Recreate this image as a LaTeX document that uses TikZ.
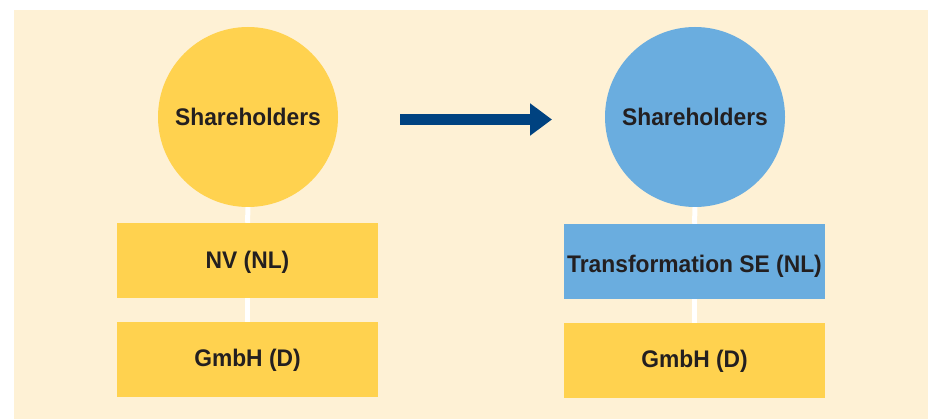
\documentclass[tikz,border=0pt]{standalone}
\usepackage{fontspec}
\setmainfont{Liberation Sans}
\newfontfamily\lblfont[FakeStretch=0.95]{Liberation Sans}
\usetikzlibrary{arrows.meta}
\definecolor{cream}{HTML}{FEF1D5}
\definecolor{yel}{HTML}{FFD24F}
\definecolor{sky}{HTML}{6AADDF}
\definecolor{navy}{HTML}{004280}
\definecolor{ink}{HTML}{231F20}
\tikzset{
  lbl/.style={text=ink, font=\lblfont\fontsize{24}{28}\selectfont\bfseries},
  circ/.style={lbl, circle, minimum size=180pt, inner sep=0pt},
  boxn/.style={rectangle, minimum width=261pt, minimum height=75pt, inner sep=0pt},
  link/.style={draw=white, line width=5pt},
}
\begin{document}
\begin{tikzpicture}[x=1pt,y=-1pt]
\useasboundingbox (0,0) rectangle (928,419);
\fill[cream] (14,10) rectangle (928,419);
% left
\node[circ, fill=yel] (s1) at (248,117) {Shareholders};
\node[boxn, fill=yel, label={[lbl, yshift=-2pt]center:NV (NL)}] (nv) at (247.5,260.5) {};
\node[boxn, fill=yel, label={[lbl, yshift=-1pt]center:GmbH (D)}] (g1) at (247.5,359.5) {};
\draw[link] (s1.south) -- (nv.north);
\draw[link] (nv.south) -- (g1.north);
% right
\node[circ, fill=sky] (s2) at (695,117) {Shareholders};
\node[boxn, fill=sky, label={[lbl, yshift=-5pt]center:Transformation SE (NL)}] (se) at (694.5,261.5) {};
\node[boxn, fill=yel, label={[lbl, yshift=-1pt]center:GmbH (D)}] (g2) at (694.5,360.5) {};
\draw[link] (s2.south) -- (se.north);
\draw[link] (se.south) -- (g2.north);
% arrow
\coordinate (a1) at (400,119.5);
\coordinate (a2) at (552,119.5);
\draw[navy, line width=11pt, -{Triangle[length=22pt,width=31pt]}] (a1) -- (a2);
\end{tikzpicture}
\end{document}
